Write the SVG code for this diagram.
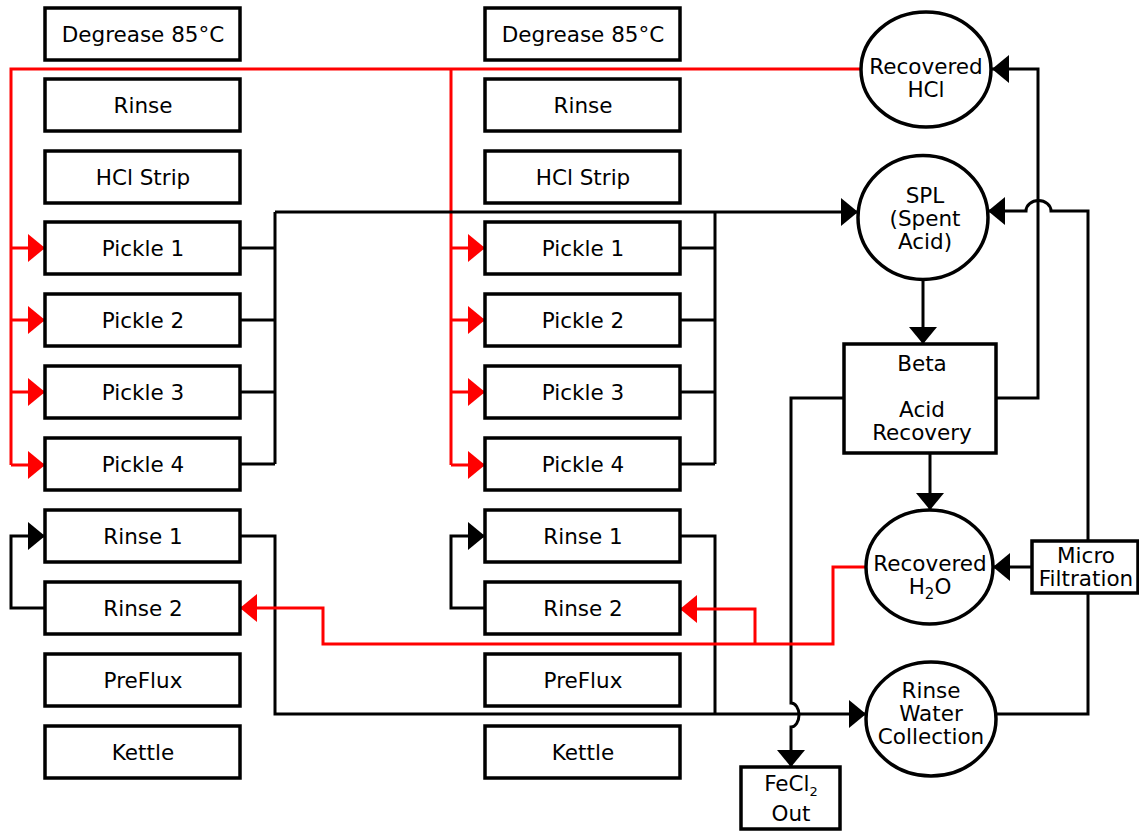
<svg xmlns="http://www.w3.org/2000/svg" width="1139" height="831" viewBox="0 0 1139 831">
<style>
.box{fill:#fff;stroke:#000;stroke-width:3.5}
.t{font-family:"DejaVu Sans","Verdana",sans-serif;font-size:21.5px;fill:#000;text-anchor:middle}
.k{fill:none;stroke:#000;stroke-width:3}
.r{fill:none;stroke:#f00;stroke-width:3}
.sub{font-size:15px}
</style>
<defs>
<marker id="ab" markerUnits="userSpaceOnUse" markerWidth="17" markerHeight="28" viewBox="0 0 17 28" refX="17" refY="14" orient="auto"><path d="M0,0 L17,14 L0,28 z" fill="#000"/></marker>
<marker id="ar" markerUnits="userSpaceOnUse" markerWidth="17" markerHeight="28" viewBox="0 0 17 28" refX="17" refY="14" orient="auto"><path d="M0,0 L17,14 L0,28 z" fill="#f00"/></marker>
</defs>
<rect width="1139" height="831" fill="#fff"/>

<g id="connectors">
<path class="r" d="M861,69 H11 V465"/>
<path class="r" d="M11,248 H45" marker-end="url(#ar)"/>
<path class="r" d="M11,320 H45" marker-end="url(#ar)"/>
<path class="r" d="M11,392 H45" marker-end="url(#ar)"/>
<path class="r" d="M11,465 H45" marker-end="url(#ar)"/>
<path class="r" d="M451,69 V465"/>
<path class="r" d="M451,248 H485" marker-end="url(#ar)"/>
<path class="r" d="M451,320 H485" marker-end="url(#ar)"/>
<path class="r" d="M451,392 H485" marker-end="url(#ar)"/>
<path class="r" d="M451,465 H485" marker-end="url(#ar)"/>
<path class="k" d="M240,248 H275 M240,320 H275 M240,392 H275 M240,464 H275 M275,464 V212"/>
<path class="k" d="M680,248 H715 M680,320 H715 M680,392 H715 M680,464 H715 M715,464 V212"/>
<path class="k" d="M275,212 H858" marker-end="url(#ab)"/>
<path class="k" d="M45,608 H11 V536 H45" marker-end="url(#ab)"/>
<path class="k" d="M485,608 H451 V536 H485" marker-end="url(#ab)"/>
<path class="k" d="M240,536 H275 V714 H866" marker-end="url(#ab)"/>
<path class="k" d="M680,536 H715 V714"/>
<path class="k" d="M923,280 V344" marker-end="url(#ab)"/>
<path class="k" d="M930,453 V510" marker-end="url(#ab)"/>
<path class="k" d="M996,398 H1038 V69 H992" marker-end="url(#ab)"/>
<path class="k" d="M844,398 H791 V703 A8 12 0 0 1 791,727 V767" marker-end="url(#ab)"/>
<path class="k" d="M996,714 H1088 V593"/>
<path class="k" d="M1088,541 V211 H1051 A12 10 0 0 0 1026,211 H988" marker-end="url(#ab)"/>
<path class="k" d="M1032,567 H993" marker-end="url(#ab)"/>
<path class="r" d="M866,567 H833 V644 H323 V608 H240" marker-end="url(#ar)"/>
<path class="r" d="M755,644 V609 H680" marker-end="url(#ar)"/>
</g>

<g id="degrease-a"><rect class="box" x="45" y="8" width="195" height="52"/><text class="t" x="143" y="42">Degrease 85°C</text></g>
<g id="rinse-a"><rect class="box" x="45" y="79" width="195" height="52"/><text class="t" x="143" y="113">Rinse</text></g>
<g id="hclstrip-a"><rect class="box" x="45" y="151" width="195" height="52"/><text class="t" x="143" y="185">HCl Strip</text></g>
<g id="pickle1-a"><rect class="box" x="45" y="222" width="195" height="52"/><text class="t" x="143" y="256">Pickle 1</text></g>
<g id="pickle2-a"><rect class="box" x="45" y="294" width="195" height="52"/><text class="t" x="143" y="328">Pickle 2</text></g>
<g id="pickle3-a"><rect class="box" x="45" y="366" width="195" height="52"/><text class="t" x="143" y="400">Pickle 3</text></g>
<g id="pickle4-a"><rect class="box" x="45" y="438" width="195" height="52"/><text class="t" x="143" y="472">Pickle 4</text></g>
<g id="rinse1-a"><rect class="box" x="45" y="510" width="195" height="52"/><text class="t" x="143" y="544">Rinse 1</text></g>
<g id="rinse2-a"><rect class="box" x="45" y="582" width="195" height="52"/><text class="t" x="143" y="616">Rinse 2</text></g>
<g id="preflux-a"><rect class="box" x="45" y="654" width="195" height="52"/><text class="t" x="143" y="688">PreFlux</text></g>
<g id="kettle-a"><rect class="box" x="45" y="726" width="195" height="52"/><text class="t" x="143" y="760">Kettle</text></g>

<g id="degrease-b"><rect class="box" x="485" y="8" width="195" height="52"/><text class="t" x="583" y="42">Degrease 85°C</text></g>
<g id="rinse-b"><rect class="box" x="485" y="79" width="195" height="52"/><text class="t" x="583" y="113">Rinse</text></g>
<g id="hclstrip-b"><rect class="box" x="485" y="151" width="195" height="52"/><text class="t" x="583" y="185">HCl Strip</text></g>
<g id="pickle1-b"><rect class="box" x="485" y="222" width="195" height="52"/><text class="t" x="583" y="256">Pickle 1</text></g>
<g id="pickle2-b"><rect class="box" x="485" y="294" width="195" height="52"/><text class="t" x="583" y="328">Pickle 2</text></g>
<g id="pickle3-b"><rect class="box" x="485" y="366" width="195" height="52"/><text class="t" x="583" y="400">Pickle 3</text></g>
<g id="pickle4-b"><rect class="box" x="485" y="438" width="195" height="52"/><text class="t" x="583" y="472">Pickle 4</text></g>
<g id="rinse1-b"><rect class="box" x="485" y="510" width="195" height="52"/><text class="t" x="583" y="544">Rinse 1</text></g>
<g id="rinse2-b"><rect class="box" x="485" y="582" width="195" height="52"/><text class="t" x="583" y="616">Rinse 2</text></g>
<g id="preflux-b"><rect class="box" x="485" y="654" width="195" height="52"/><text class="t" x="583" y="688">PreFlux</text></g>
<g id="kettle-b"><rect class="box" x="485" y="726" width="195" height="52"/><text class="t" x="583" y="760">Kettle</text></g>

<g id="recovered-hcl"><ellipse class="box" cx="926" cy="69.5" rx="65" ry="57.5"/><text class="t" x="926" y="74">Recovered</text><text class="t" x="926" y="97">HCl</text></g>
<g id="spl"><ellipse class="box" cx="923" cy="217.5" rx="65" ry="62"/><text class="t" x="925" y="203">SPL</text><text class="t" x="925" y="226">(Spent</text><text class="t" x="925" y="249">Acid)</text></g>
<g id="beta"><rect class="box" x="844" y="344" width="152" height="109"/><text class="t" x="922" y="371">Beta</text><text class="t" x="922" y="417">Acid</text><text class="t" x="922" y="440">Recovery</text></g>
<g id="recovered-h2o"><ellipse class="box" cx="929.5" cy="567" rx="63.5" ry="57"/><text class="t" x="930" y="571">Recovered</text><text class="t" x="930" y="594">H<tspan class="sub" dy="5">2</tspan><tspan dy="-5">O</tspan></text></g>
<g id="micro-filtration"><rect class="box" x="1032" y="541" width="106" height="52"/><text class="t" x="1086" y="563">Micro</text><text class="t" x="1086" y="586">Filtration</text></g>
<g id="rinse-water-collection"><ellipse class="box" cx="931" cy="719" rx="65" ry="57"/><text class="t" x="931" y="698">Rinse</text><text class="t" x="931" y="721">Water</text><text class="t" x="931" y="744">Collection</text></g>
<g id="fecl2-out"><rect class="box" x="741" y="767" width="99" height="62"/><text class="t" x="791" y="791">FeCl<tspan font-size="13" dy="5">2</tspan></text><text class="t" x="791" y="821">Out</text></g>
</svg>
